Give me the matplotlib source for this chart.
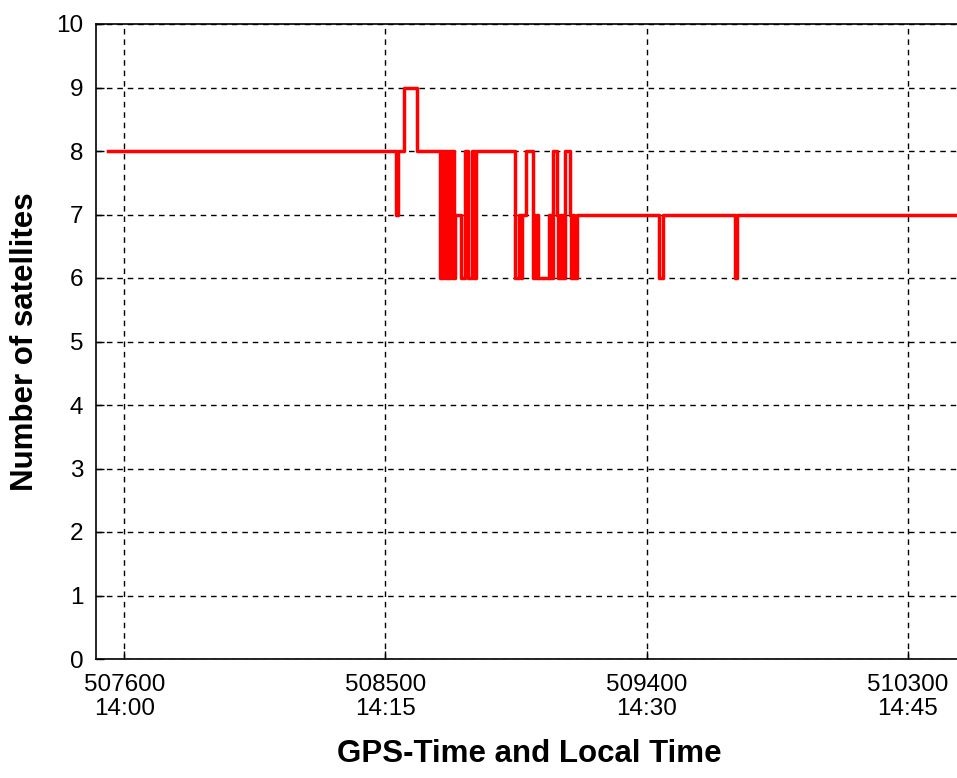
import matplotlib
matplotlib.use("Agg")
import matplotlib.pyplot as plt

# GPS time (s) at which each step begins, and satellite count from that time on
times = [507545, 508536, 508543, 508564, 508609,
         508688, 508692, 508696, 508700, 508704,
         508708, 508712, 508716, 508720, 508724,
         508728, 508732, 508736, 508740, 508760,
         508775, 508785, 508799, 508806, 508812,
         508946, 508962, 508966, 508970, 508986,
         509007, 509012, 509016, 509022, 509026,
         509062, 509066, 509070, 509074, 509078,
         509092, 509096, 509100, 509104, 509108,
         509112, 509119, 509136, 509140, 509146,
         509150, 509160, 509443, 509457, 509704,
         509711, 510487]
sats = [8, 7, 8, 9, 8,
        6, 8, 6, 8, 6,
        8, 6, 8, 6, 8,
        6, 8, 6, 7, 6,
        8, 6, 8, 6, 8,
        6, 7, 6, 7, 8,
        6, 7, 6, 7, 6,
        7, 6, 7, 6, 8,
        7, 6, 7, 6, 7,
        6, 8, 7, 6, 7,
        6, 7, 6, 7, 6,
        7, 7]

xticks = [507600, 508500, 509400, 510300]
xticklabels = ["507600\n14:00", "508500\n14:15", "509400\n14:30", "510300\n14:45"]
yticks = list(range(0, 11))

plt.rcParams['font.family'] = ['Liberation Sans', 'DejaVu Sans']

fig = plt.figure(figsize=(9.57, 7.78), dpi=100)
ax = fig.add_axes([96/957, 1 - 659/778, 866/957, (659 - 24)/778])

ax.plot(times, sats, drawstyle='steps-post', color='#ff0000', lw=2.5)

ax.set_xlim(507502.5, 510487)
ax.set_ylim(0, 10)
ax.set_xticks(xticks)
ax.set_xticklabels(xticklabels, fontsize=17.5, linespacing=1.1)
ax.set_yticks(yticks)
ax.set_yticklabels([str(v) for v in yticks], fontsize=17.5)
ax.tick_params(direction='in', length=6, width=1, pad=9)
ax.tick_params(axis='x', pad=11)
ax.grid(True, color='black', linestyle=(0, (4, 3.5)), linewidth=1)
for s in ax.spines.values():
    s.set_linewidth(1.2)
ax.spines['right'].set_visible(False)

ax.set_ylabel("Number of satellites", fontsize=22.5, fontweight='bold', labelpad=12)
ax.set_xlabel("GPS-Time and Local Time", fontsize=22.5, fontweight='bold', labelpad=14)

fig.savefig("out.png", dpi=100)
